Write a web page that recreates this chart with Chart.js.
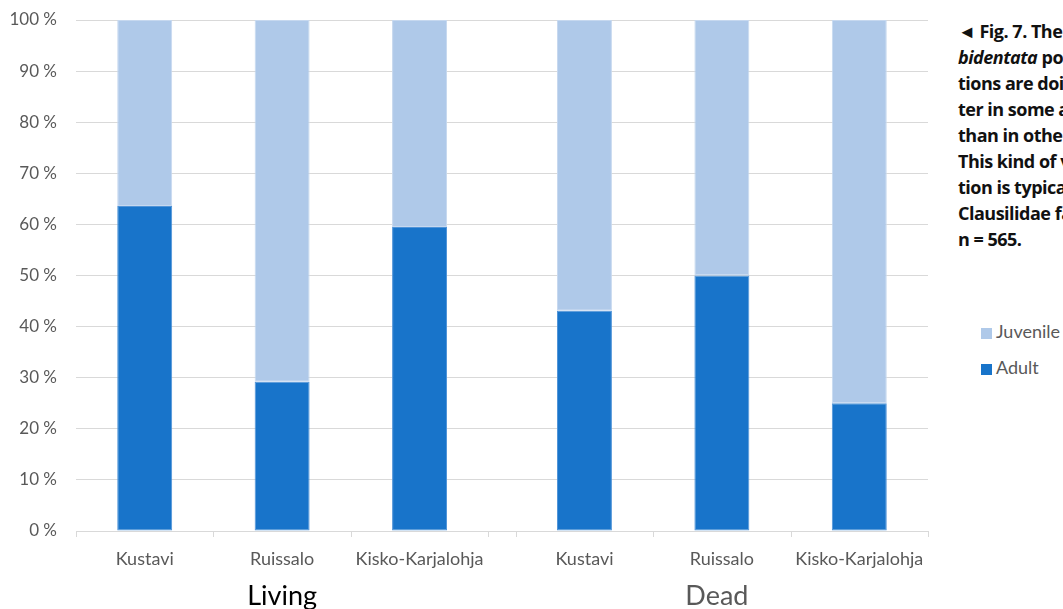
<!DOCTYPE html>
<html>
<head>
<meta charset="utf-8">
<script src="https://cdn.jsdelivr.net/npm/chart.js@4"></script>
<style>
  html, body { margin: 0; padding: 0; background: #fff; width: 1063px; height: 609px; overflow: hidden; position: relative; }
  #wrap { position: absolute; left: 0; top: 0; width: 945px; height: 609px; }
  #legend { position: absolute; left: 981px; top: 320px; font-family: Lato, sans-serif; font-size: 18px; color: #595959; }
  #legend div { height: 36px; line-height: 22px; white-space: nowrap; }
  #legend span.box { display: inline-block; width: 11px; height: 11px; margin-right: 4px; vertical-align: -1px; }
  #caption { position: absolute; left: 958px; top: 18px; font-family: "Open Sans", sans-serif; font-weight: bold; font-size: 18px; line-height: 26px; color: #111; white-space: nowrap; letter-spacing: -0.5px; }
</style>
</head>
<body>
<div id="wrap"><canvas id="my-chart"></canvas></div>
<div id="legend"></div>
<div id="caption">
  <div>◄ Fig. 7. The Clausilia</div>
  <div><i>bidentata</i> popula-</div>
  <div>tions are doing bet-</div>
  <div>ter in some areas</div>
  <div>than in others.</div>
  <div>This kind of varia-</div>
  <div>tion is typical for</div>
  <div>Clausilidae family.</div>
  <div>n = 565.</div>
</div>
<script>
const sites = ['Kustavi', 'Ruissalo', 'Kisko-Karjalohja'];
const groups = ['Living', 'Dead'];
const adult = [63.6, 29.2, 59.5, 43.1, 50.0, 25.0];
const juvenile = [36.4, 70.8, 40.5, 56.9, 50.0, 75.0];
const yTicks = [0, 10, 20, 30, 40, 50, 60, 70, 80, 90, 100];

const GAP = 0.2; // small gap between the two groups, in category units
const xOf = (g, i) => g * (sites.length + GAP) + i + 0.5;

let labels = [], xs = [];
groups.forEach((g, gi) => {
  sites.forEach((s, si) => {
    labels.push(s);
    xs.push(xOf(gi, si));
  });
});

const colors = { Adult: '#1874ca', Juvenile: '#afc9e9' };
const borders = { Adult: '#4f93d8', Juvenile: '#c6d8ef' };

const groupLabels = {
  id: 'groupLabels',
  afterDraw(chart) {
    const x = chart.scales.x, ctx = chart.ctx;
    ctx.save();
    // tick marks between categories
    ctx.strokeStyle = '#d9d9d9';
    ctx.lineWidth = 1;
    groups.forEach((g, gi) => {
      for (let i = 0; i <= sites.length; i++) {
        const px = Math.round(x.getPixelForValue(gi * (sites.length + GAP) + i)) + 0.5;
        ctx.beginPath();
        ctx.moveTo(px, chart.chartArea.bottom);
        ctx.lineTo(px, chart.chartArea.bottom + 6);
        ctx.stroke();
      }
    });
    ctx.font = '27px Lato, sans-serif';
    ctx.textAlign = 'center';
    ctx.textBaseline = 'middle';
    groups.forEach((g, gi) => {
      const px = x.getPixelForValue(xOf(gi, 1)) - gi * 5;
      ctx.fillStyle = gi === 0 ? '#000000' : '#595959';
      ctx.fillText(g, px, 596);
    });
    ctx.restore();
  }
};

const ctx = document.getElementById('my-chart').getContext('2d');
const chart = new Chart(ctx, {
  type: 'bar',
  data: {
    datasets: [
      {
        label: 'Adult',
        data: adult.map((v, i) => ({ x: xs[i], y: v })),
        backgroundColor: colors.Adult,
        borderColor: borders.Adult,
        borderWidth: 1,
        borderSkipped: false,
        barPercentage: 0.5,
        categoryPercentage: 0.8
      },
      {
        label: 'Juvenile',
        data: juvenile.map((v, i) => ({ x: xs[i], y: v })),
        backgroundColor: colors.Juvenile,
        borderColor: borders.Juvenile,
        borderWidth: 1,
        borderSkipped: false,
        barPercentage: 0.5,
        categoryPercentage: 0.8
      }
    ]
  },
  plugins: [groupLabels],
  options: {
    responsive: true,
    maintainAspectRatio: false,
    animation: false,
    layout: { padding: { top: 20, right: 17, left: 0, bottom: 0 } },
    plugins: {
      legend: { display: false },
      tooltip: { enabled: false }
    },
    scales: {
      x: {
        type: 'linear',
        stacked: true,
        offset: false,
        min: 0,
        max: groups.length * sites.length + GAP * (groups.length - 1),
        afterBuildTicks: s => { s.ticks = xs.map(v => ({ value: v })); },
        afterFit: s => { s.height = 78; },
        ticks: {
          autoSkip: false,
          maxRotation: 0,
          padding: 9,
          color: '#595959',
          font: { family: 'Lato, sans-serif', size: 18 },
          callback: (val, idx) => labels[idx]
        },
        grid: { display: false },
        border: { color: '#d9d9d9' }
      },
      y: {
        stacked: true,
        min: 0,
        max: 100,
        afterBuildTicks: s => { s.ticks = yTicks.map(v => ({ value: v })); },
        afterFit: s => { s.width = 76; s.paddingTop = 10; s.paddingBottom = 10; },
        ticks: {
          padding: 19,
          color: '#595959',
          font: { family: 'Lato, sans-serif', size: 17 },
          callback: v => v + ' %'
        },
        grid: { color: '#d9d9d9', drawTicks: false },
        border: { display: false }
      }
    }
  }
});

const legend = document.getElementById('legend');
['Juvenile', 'Adult'].forEach(name => {
  const row = document.createElement('div');
  const box = document.createElement('span');
  box.className = 'box';
  box.style.background = colors[name];
  row.appendChild(box);
  row.appendChild(document.createTextNode(name));
  legend.appendChild(row);
});
</script>
</body>
</html>
